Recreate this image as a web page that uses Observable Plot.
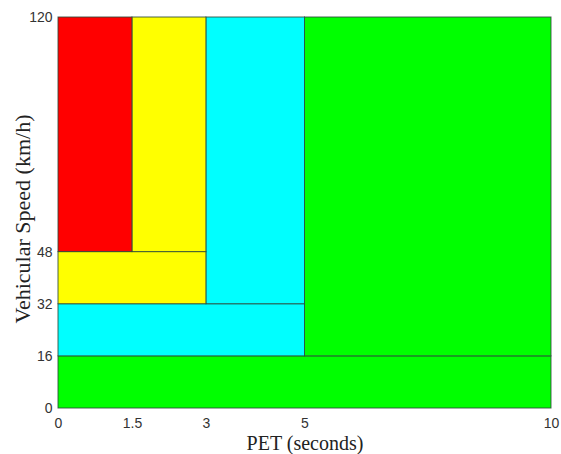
<!DOCTYPE html>
<html>
<head>
<meta charset="utf-8">
<script src="https://cdn.jsdelivr.net/npm/d3@7"></script>
<script src="https://cdn.jsdelivr.net/npm/@observablehq/plot@0.6"></script>
<style>
  html, body { margin: 0; padding: 0; background: #fff; }
</style>
</head>
<body>
<div id="chart"></div>
<script>
// Zone rectangles (PET seconds on x, speed km/h on y)
const zoneX1 = [0, 5, 0, 3, 0, 1.5, 0];
const zoneX2 = [10, 10, 5, 5, 3, 3, 1.5];
const zoneY1 = [0, 16, 16, 32, 32, 48, 48];
const zoneY2 = [16, 120, 32, 120, 48, 120, 120];
const zoneColor = ["#00ff00", "#00ff00", "#00ffff", "#00ffff", "#ffff00", "#ffff00", "#ff0000"];
const xTicks = [0, 1.5, 3, 5, 10];
const yTicks = [0, 16, 32, 48, 120];
const xTitle = "PET (seconds)";
const yTitle = "Vehicular Speed (km/h)";

const zones = zoneX1.map((x1, i) => ({x1, x2: zoneX2[i], y1: zoneY1[i], y2: zoneY2[i], fill: zoneColor[i]}));

const chart = Plot.plot({
  width: 561,
  height: 454,
  marginLeft: 58,
  marginRight: 10,
  marginTop: 17,
  marginBottom: 46,
  style: {fontFamily: "'Liberation Sans', Arial, sans-serif", fontSize: "14px", color: "#333", background: "#fff"},
  x: {domain: [0, 10]},
  y: {domain: [0, 120]},
  marks: [
    Plot.rect(zones, {x1: "x1", x2: "x2", y1: "y1", y2: "y2", fill: "fill", stroke: "#2a4a3a", strokeWidth: 1, strokeOpacity: 0.85}),
    Plot.axisX({ticks: xTicks, tickSize: 0, tickPadding: 10, label: null, tickFormat: d => String(d), fontSize: 14}),
    Plot.axisY({ticks: yTicks, tickSize: 0, tickPadding: 6, label: null, tickFormat: d => String(d), fontSize: 14}),
    Plot.text([xTitle], {text: d => d, frameAnchor: "bottom", lineAnchor: "middle", textAnchor: "middle", dy: 35, fontFamily: "'Liberation Serif', 'Times New Roman', serif", fontSize: 20, fill: "#222"}),
    Plot.text([yTitle], {text: d => d, frameAnchor: "left", lineAnchor: "middle", textAnchor: "middle", dx: -36, dy: 6, rotate: -90, fontFamily: "'Liberation Serif', 'Times New Roman', serif", fontSize: 22, fill: "#222"})
  ]
});
document.getElementById("chart").appendChild(chart);
</script>
</body>
</html>
